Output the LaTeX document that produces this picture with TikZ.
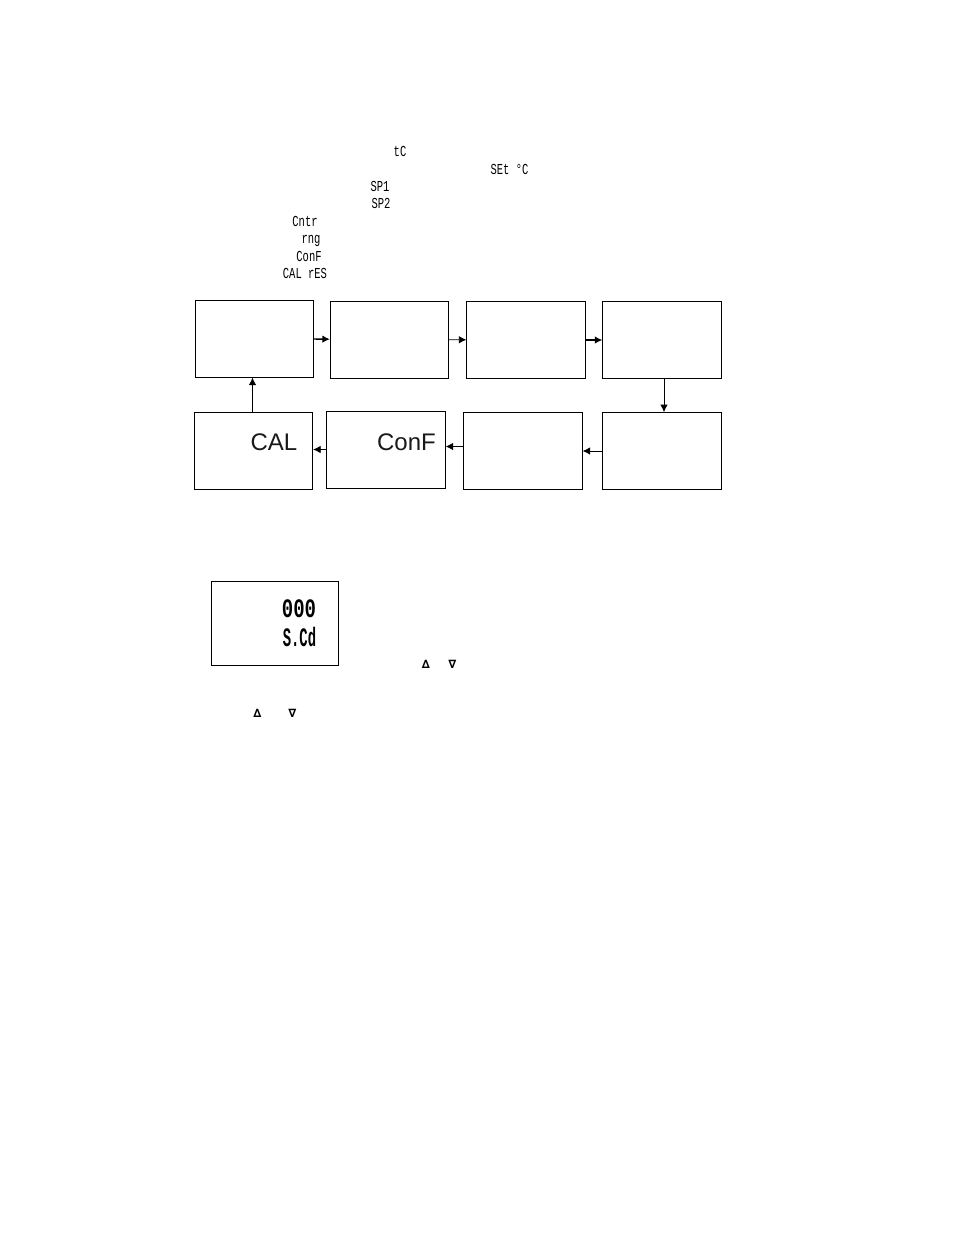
\documentclass[tikz,border=0pt]{standalone}
\usepackage{fontspec}
\setmainfont{Liberation Sans}
\newfontfamily\lcdfont{Liberation Mono}
\newfontfamily\symfont{DejaVu Sans}
\usetikzlibrary{arrows.meta}

\begin{document}
\begin{tikzpicture}[
    x=1pt,y=-1pt,
    node distance=136pt,
    menu node/.style={rectangle,draw,line width=0.8pt,inner sep=0pt,minimum width=118.5pt,minimum height=77pt},
    display node/.style={rectangle,draw,line width=0.9pt,inner sep=0pt,minimum width=127pt,minimum height=84pt},
    lcd node/.style={font=\lcdfont\fontsize{10.5}{11}\selectfont,inner sep=0pt,yscale=1.45,transform shape},
    big lcd node/.style={font=\lcdfont\bfseries\fontsize{19}{20}\selectfont,inner sep=0pt,yscale=1.4,transform shape},
    key node/.style={font=\symfont\bfseries\fontsize{11.5}{12}\selectfont,inner sep=0pt},
    title node/.style={font=\fontsize{24}{26}\selectfont,inner sep=0pt,text=black!90},
    flow/.style={-{Latex[length=7.5pt,width=7.5pt]},line width=0.8pt},
    flow thick/.style={-{Latex[length=7.5pt,width=7.5pt]},line width=1.3pt}]
  \useasboundingbox (0,0) rectangle (954,1235);

  % menu text
  \node[lcd node] (tcText) at (400,151.5) {tC};
  \node[lcd node] (setText) at (509.5,169.5) {SEt °C};
  \node[lcd node] (spOneText) at (380,186.5) {SP1};
  \node[lcd node] (spTwoText) at (381,203.5) {SP2};
  \node[lcd node] (cntrText) at (305,221.5) {Cntr};
  \node[lcd node] (rngText) at (311,241) {rng};
  \node[lcd node] (confText) at (309,256.5) {ConF};
  \node[lcd node] (calText) at (305,273.5) {CAL rES};

  % menu boxes
  \node[menu node] (BoxA) at (254.25,338.75) {};
  \node[menu node] (BoxB) [right of=BoxA,node distance=135.25pt,yshift=-0.75pt] {};
  \node[menu node] (BoxC) [right of=BoxB,node distance=136.5pt,yshift=-0.5pt] {};
  \node[menu node] (BoxD) [right of=BoxC] {};
  \node[menu node] (BoxE) [below of=BoxD,node distance=111pt] {};
  \node[menu node] (BoxF) [left of=BoxE,node distance=139pt] {};
  \node[menu node] (BoxG) [left of=BoxF,node distance=137pt,yshift=1pt] {};
  \node[menu node] (BoxH) [left of=BoxF,node distance=269.5pt] {};
  \node[title node] (confTitle) at (406.5,442.5) {ConF};
  \node[title node] (calTitle) at (274,442.5) {CAL};

  \path
    (BoxA)
         edge[flow thick] (BoxB)
    (BoxB)
         edge[flow] (BoxC)
    (BoxC)
         edge[flow thick] (BoxD)
    ([xshift=2pt]BoxD.south)
         edge[flow] ([xshift=2pt]BoxE.north)
    (BoxE)
         edge[flow] (BoxF)
    ([yshift=4.5pt]BoxF.west)
         edge[flow] ([yshift=3.5pt]BoxG.east)
    ([yshift=0.5pt]BoxG.west)
         edge[flow] ([yshift=1.5pt]BoxH.east)
    ([xshift=-1pt]BoxH.north)
         edge[flow] ([xshift=-1.75pt]BoxA.south);

  % display
  \node[display node] (DisplayBox) at (275,623) {};
  \node[big lcd node] (zeroText) at (299,608.5) {000};
  \node[big lcd node,xscale=0.73] (scdText) at (299.5,636.5) {S.Cd};

  % keys
  \node[key node] (upKeyA) at (426,664) {∆};
  \node[key node] (downKeyA) at (452.5,664) {∇};
  \node[key node] (upKeyB) at (257.5,713) {∆};
  \node[key node] (downKeyB) at (292.5,713) {∇};
\end{tikzpicture}
\end{document}
